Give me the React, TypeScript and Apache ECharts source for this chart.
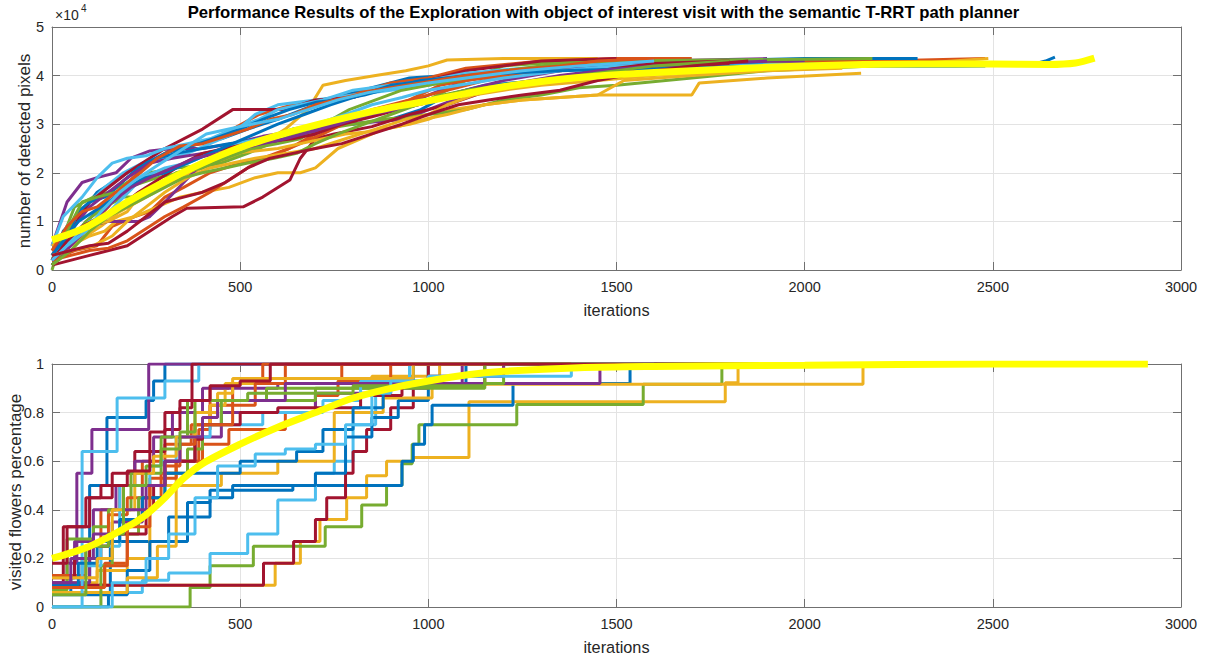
import React, { useEffect, useRef } from "react";
import * as echarts from "echarts";

const COLORS = ["#0072BD", "#D95319", "#EDB120", "#7E2F8E", "#77AC30", "#4DBEEE", "#A2142F"];
const MEAN_COLOR = "#FFFF00";

const TITLE = "Performance Results of the Exploration with object of interest visit with the semantic T-RRT path planner";
const TOP_Y_NAME = "number of detected pixels";
const BOTTOM_Y_NAME = "visited flowers percentage";
const X_NAME = "iterations";

// Top: detected pixels (in units of 1e4) per run
const TOP_RUNS: number[][][] = [
  [[0,0.2],[30,0.8],[80,1.2],[120,1.6],[160,1.8],[220,2.1],[300,2.3],[380,2.6],[450,2.7],[520,2.9],[600,3.1],[700,3.4],[780,3.6],[850,3.75],[950,3.95],[1050,4.0],[1200,4.05],[1400,4.15],[1600,4.2],[1900,4.25],[2300,4.3]],
  [[0,0.3],[40,0.5],[100,0.9],[150,1.3],[200,1.8],[260,2.2],[320,2.5],[400,2.6],[480,2.9],[550,3.2],[640,3.4],[720,3.5],[800,3.6],[900,3.85],[1000,3.95],[1100,4.15],[1300,4.3],[1500,4.35],[1700,4.35]],
  [[0,0.4],[50,0.6],[90,0.7],[130,0.9],[180,1.2],[250,1.5],[320,1.8],[400,2.1],[480,2.3],[560,2.6],[620,2.9],[680,3.3],[720,3.8],[780,3.9],[860,4.0],[940,4.1],[1000,4.2],[1050,4.32],[1200,4.35],[1450,4.35]],
  [[0,0.5],[40,1.4],[80,1.8],[120,1.9],[170,2.0],[210,2.3],[260,2.45],[320,2.5],[400,2.5],[480,2.6],[560,2.75],[640,2.85],[700,2.9],[780,3.1],[860,3.2],[940,3.4],[1000,3.6],[1100,3.9],[1250,4.1],[1400,4.2],[1600,4.3],[1900,4.35]],
  [[0,0.0],[20,0.5],[60,1.3],[110,1.5],[150,1.6],[200,1.8],[260,2.0],[330,2.1],[400,2.15],[460,2.3],[520,2.6],[600,2.8],[700,3.0],[800,3.2],[900,3.3],[1000,3.5],[1100,3.9],[1200,4.2],[1400,4.3],[1600,4.3],[2180,4.3]],
  [[0,0.3],[40,0.9],[90,1.3],[140,1.7],[190,2.0],[240,2.2],[300,2.3],[360,2.4],[420,2.6],[480,2.8],[540,3.2],[600,3.4],[700,3.5],[800,3.6],[900,3.7],[1000,3.8],[1100,3.95],[1300,4.1],[1500,4.2],[1800,4.2],[2000,4.25]],
  [[0,0.3],[50,0.8],[100,1.4],[200,2.0],[300,2.5],[400,2.9],[480,3.3],[620,3.3],[700,3.5],[800,3.55],[900,3.8],[1000,3.9],[1100,4.1],[1300,4.3],[1500,4.35]],
  [[0,0.1],[30,0.4],[80,0.9],[130,1.3],[170,1.7],[230,2.1],[280,2.3],[330,2.4],[400,2.5],[470,2.6],[560,2.7],[640,2.9],[720,3.0],[800,3.0],[900,3.1],[980,3.3],[1050,3.6],[1150,3.8],[1300,3.9],[1450,4.1],[1600,4.15],[1800,4.18],[2050,4.2],[2480,4.2]],
  [[0,0.2],[60,0.4],[120,0.5],[160,0.9],[220,1.1],[260,1.2],[300,1.5],[350,1.7],[420,2.0],[500,2.2],[560,2.3],[630,2.5],[700,2.8],[760,3.0],[850,3.3],[950,3.5],[1050,3.7],[1150,3.9],[1300,4.1],[1500,4.25],[1800,4.3],[2200,4.3],[2480,4.35]],
  [[0,0.3],[50,0.5],[100,0.7],[140,0.8],[170,1.0],[220,1.1],[280,1.3],[340,1.5],[400,1.6],[470,1.7],[540,1.9],[600,2.0],[660,2.0],[700,2.1],[760,2.5],[820,2.7],[880,2.9],[950,3.0],[1000,3.1],[1060,3.3],[1150,3.4],[1250,3.5],[1450,3.6],[1700,3.6],[1720,3.85],[1900,3.95],[2150,4.05]],
  [[0,0.1],[50,0.5],[100,0.9],[150,1.0],[230,1.0],[260,1.1],[300,1.4],[350,1.8],[400,2.2],[450,2.4],[500,2.5],[560,2.6],[620,2.7],[700,2.9],[780,3.0],[860,3.05],[940,3.1],[1000,3.3],[1100,3.6],[1200,3.8],[1350,4.0],[1550,4.2],[1800,4.3],[2000,4.3]],
  [[0,0.1],[40,0.5],[90,1.0],[140,1.3],[190,1.5],[240,1.5],[280,1.7],[330,2.0],[380,2.1],[450,2.2],[520,2.4],[580,2.6],[650,2.8],[720,2.9],[800,3.0],[880,3.1],[950,3.15],[1000,3.2],[1100,3.3],[1200,3.5],[1300,3.6],[1400,3.75],[1500,3.8],[1700,3.95],[1900,4.1],[2180,4.2]],
  [[0,0.5],[30,1.1],[80,1.5],[120,1.9],[160,2.2],[200,2.3],[250,2.35],[300,2.5],[360,2.6],[420,2.7],[480,2.9],[550,3.1],[600,3.3],[660,3.4],[720,3.5],[800,3.7],[900,3.8],[1000,3.9],[1100,4.05],[1250,4.15],[1400,4.2],[1600,4.25],[1790,4.3]],
  [[0,0.1],[100,0.3],[200,0.5],[280,0.9],[320,1.1],[358,1.27],[508,1.3],[560,1.5],[632,1.85],[660,2.3],[700,2.7],[750,2.8],[850,2.95],[950,3.2],[1050,3.4],[1200,3.8],[1400,4.0],[1600,4.15],[1800,4.25]],
  [[0,0.2],[40,0.7],[70,1.2],[100,1.4],[140,1.5],[200,1.9],[250,2.2],[300,2.4],[370,2.55],[430,2.7],[500,2.9],[560,3.1],[630,3.3],[700,3.45],[760,3.5],[830,3.6],[900,3.75],[980,3.9],[1050,3.95],[1200,4.05],[1400,4.2],[1700,4.3],[2000,4.35],[2300,4.35]],
  [[0,0.2],[50,0.3],[100,0.4],[150,0.45],[200,0.6],[260,0.9],[300,1.1],[350,1.3],[420,1.6],[480,1.9],[540,2.2],[600,2.4],[660,2.6],[720,2.8],[800,3.1],[880,3.3],[950,3.5],[1030,3.8],[1100,3.9],[1200,4.0],[1350,4.1],[1500,4.2],[1700,4.3],[1900,4.3]],
  [[0,0.5],[40,0.7],[90,0.9],[150,1.0],[200,1.2],[250,1.7],[300,1.8],[360,2.0],[420,2.2],[480,2.4],[540,2.45],[600,2.5],[660,2.6],[720,2.7],[780,2.8],[850,2.85],[920,2.95],[990,3.1],[1050,3.2],[1150,3.4],[1250,3.5],[1350,3.55],[1450,3.6],[1520,3.9],[1700,4.0],[1900,4.1],[2100,4.15]],
  [[0,0.4],[50,0.8],[100,1.3],[150,1.6],[200,1.9],[260,2.2],[320,2.3],[400,2.4],[470,2.5],[540,2.6],[600,2.65],[680,2.8],[760,3.0],[840,3.2],[920,3.4],[1000,3.5],[1100,3.7],[1200,3.9],[1350,4.1],[1500,4.25],[1700,4.3],[1900,4.3]],
  [[0,0.2],[40,0.8],[80,1.4],[120,1.5],[170,1.6],[220,1.75],[280,1.9],[340,2.0],[400,2.1],[460,2.3],[530,2.5],[600,2.6],[660,2.7],[720,3.0],[790,3.3],[860,3.5],[930,3.7],[1000,3.8],[1100,3.95],[1200,4.1],[1350,4.25],[1500,4.3],[2180,4.35]],
  [[0,0.3],[50,0.6],[100,1.0],[140,1.1],[190,1.5],[240,1.9],[300,2.1],[360,2.2],[420,2.4],[490,2.6],[550,2.7],[620,2.8],[700,3.0],[780,3.2],[850,3.4],[930,3.55],[1000,3.7],[1080,3.8],[1200,3.95],[1350,4.1],[1500,4.2],[1700,4.25]],
  [[0,0.2],[40,0.6],[80,0.9],[130,1.1],[180,1.3],[230,1.6],[290,1.9],[350,2.2],[400,2.4],[460,2.5],[520,2.6],[580,2.65],[640,2.7],[700,2.8],[770,3.0],[850,3.15],[920,3.3],[1000,3.45],[1080,3.6],[1150,3.7],[1250,3.8],[1350,3.9],[1450,4.1],[1600,4.25],[1800,4.3]],
  [[0,0.3],[30,0.6],[70,1.0],[110,1.2],[150,1.4],[200,1.7],[250,1.9],[300,2.0],[360,2.2],[420,2.4],[480,2.6],[540,2.8],[600,3.0],[670,3.2],[740,3.4],[820,3.6],[900,3.8],[1000,3.9],[1100,4.0],[1200,4.05],[1350,4.1],[1600,4.15],[2000,4.2],[2400,4.2],[2600,4.22],[2640,4.3],[2665,4.38]],
  [[0,0.4],[40,0.9],[80,1.2],[120,1.3],[170,1.6],[220,1.9],[280,2.3],[340,2.55],[400,2.6],[460,2.75],[520,2.9],[580,3.1],[640,3.2],[700,3.4],[780,3.55],[860,3.7],[940,3.8],[1020,3.9],[1100,4.0],[1200,4.1],[1350,4.2],[1450,4.3],[1600,4.35]],
  [[0,0.3],[50,0.4],[110,0.5],[160,0.7],[200,1.0],[250,1.3],[300,1.6],[360,1.9],[420,2.1],[480,2.2],[540,2.3],[620,2.4],[700,2.5],[780,2.7],[860,2.9],[940,3.1],[1000,3.2],[1050,3.4],[1120,3.6],[1200,3.7],[1300,3.8],[1450,3.9],[1600,4.0],[1800,4.1],[2000,4.15],[2300,4.25],[2488,4.35]],
  [[0,0.2],[60,0.6],[110,1.0],[160,1.4],[210,1.7],[260,1.9],[320,2.1],[380,2.3],[440,2.4],[500,2.5],[560,2.6],[620,2.7],[690,2.85],[760,3.0],[840,3.2],[920,3.3],[1000,3.45],[1100,3.6],[1200,3.75],[1300,3.9],[1450,4.1],[1600,4.2],[1900,4.3]],
  [[0,0.1],[50,0.4],[100,0.8],[150,1.1],[200,1.3],[250,1.5],[300,1.7],[350,1.9],[400,2.0],[460,2.1],[520,2.2],[590,2.3],[650,2.4],[700,2.6],[760,2.8],[830,3.0],[900,3.2],[970,3.4],[1040,3.6],[1100,3.7],[1200,3.8],[1400,4.0],[1600,4.2],[1800,4.3]],
  [[0,0.2],[40,0.5],[90,0.8],[130,1.2],[180,1.6],[230,1.9],[290,2.2],[350,2.5],[410,2.8],[470,2.9],[530,3.0],[600,3.1],[680,3.3],[760,3.5],[840,3.65],[920,3.75],[1000,3.85],[1100,3.95],[1250,4.1],[1400,4.2],[1600,4.3]],
  [[0,0.3],[50,0.4],[100,0.5],[150,0.55],[200,0.8],[250,1.1],[300,1.4],[350,1.5],[400,1.6],[460,1.8],[520,2.1],[580,2.3],[640,2.4],[700,2.5],[770,2.6],[850,2.8],[930,3.0],[1000,3.2],[1080,3.4],[1160,3.5],[1250,3.6],[1350,3.7],[1450,3.9],[1550,4.05],[1700,4.2],[1850,4.3]],
];

const TOP_MEAN: number[][] = [
  [0,0.62],[50,0.75],[100,0.92],[150,1.15],[200,1.4],[300,1.82],[400,2.2],[500,2.52],[600,2.77],[700,2.98],[800,3.17],[900,3.34],[1000,3.48],[1100,3.63],[1200,3.77],[1300,3.88],[1400,3.96],[1500,4.02],[1700,4.1],[1900,4.17],[2100,4.22],[2300,4.24],[2500,4.24],[2650,4.23],[2720,4.26],[2770,4.36],
];

// Bottom: visited flowers fraction per run (stepwise)
const BOTTOM_RUNS: number[][][] = [
  [[0,0.06],[50,0.12],[100,0.5],[146,0.78],[250,0.85],[270,0.93],[300,1],[1560,1]],
  [[0,0.1],[80,0.2],[130,0.4],[180,0.5],[240,0.6],[300,0.67],[370,0.75],[420,0.83],[480,0.92],[620,1],[1700,1]],
  [[0,0.09],[593,0.18],[660,0.27],[712,0.36],[783,0.45],[836,0.54],[889,0.6],[960,0.615],[1108,0.845],[1789,0.923],[1823,1],[2150,1]],
  [[0,0.09],[40,0.18],[66,0.55],[106,0.73],[257,1],[1900,1]],
  [[0,0],[367,0.08],[420,0.17],[535,0.25],[726,0.33],[823,0.42],[889,0.5],[930,0.59],[957,0.67],[975,0.75],[1235,0.833],[1571,0.917],[1780,1],[2180,1]],
  [[0,0.1],[80,0.64],[173,0.86],[300,0.93],[390,1],[1790,1]],
  [[0,0.09],[30,0.33],[100,0.45],[160,0.55],[220,0.64],[300,0.73],[340,0.82],[372,1],[1590,1]],
  [[0,0.05],[155,0.27],[310,0.37],[420,0.45],[480,0.5],[930,0.6],[960,0.67],[990,0.75],[1010,0.83],[1225,0.92],[1536,1],[2480,1]],
  [[0,0.09],[140,0.18],[200,0.36],[240,0.45],[290,0.55],[330,0.6],[390,0.73],[420,0.9],[470,0.92],[560,1],[2480,1]],
  [[0,0.1],[120,0.15],[200,0.2],[260,0.5],[330,0.6],[380,0.75],[420,0.83],[460,0.92],[850,0.95],[1030,1],[2150,1]],
  [[0,0.13],[60,0.27],[110,0.4],[170,0.5],[220,0.6],[270,0.7],[320,0.8],[400,0.9],[600,0.92],[1090,1],[2000,1]],
  [[0,0.07],[40,0.28],[110,0.33],[150,0.4],[210,0.55],[290,0.7],[360,0.85],[570,0.9],[870,0.92],[1000,1],[2180,1]],
  [[0,0.06],[170,0.06],[240,0.11],[310,0.14],[420,0.22],[520,0.3],[600,0.44],[700,0.55],[750,0.6],[800,0.75],[860,0.92],[950,1],[1790,1]],
  [[0,0.09],[562,0.18],[642,0.27],[700,0.36],[730,0.45],[780,0.55],[800,0.64],[836,0.73],[900,0.82],[960,0.91],[1150,1],[1800,1]],
  [[0,0],[150,0.05],[200,0.15],[260,0.27],[360,0.43],[420,0.48],[640,0.5],[700,0.55],[780,0.7],[850,0.78],[920,0.85],[1000,0.92],[1100,1],[2300,1]],
  [[0,0.13],[90,0.25],[150,0.38],[200,0.45],[260,0.53],[330,0.6],[400,0.67],[470,0.73],[620,0.8],[700,0.87],[760,0.93],[900,1],[1900,1]],
  [[0,0.06],[200,0.12],[280,0.25],[330,0.5],[450,0.55],[600,0.6],[750,0.8],[880,0.86],[1010,0.917],[2155,1],[2488,1]],
  [[0,0.1],[100,0.2],[160,0.35],[240,0.5],[300,0.6],[380,0.7],[450,0.8],[700,0.88],[900,0.9],[1000,0.92],[1456,1],[1900,1]],
  [[0,0],[130,0.17],[160,0.3],[230,0.45],[300,0.55],[360,0.65],[400,0.75],[450,0.85],[700,0.9],[1150,0.92],[1200,1],[2180,1]],
  [[0,0],[80,0.17],[130,0.25],[180,0.5],[260,0.58],[290,0.6],[330,0.7],[420,0.75],[560,0.8],[720,0.85],[820,0.93],[1000,1],[1700,1]],
  [[0,0.12],[60,0.2],[100,0.25],[150,0.3],[250,0.4],[270,0.5],[300,0.6],[380,0.69],[400,0.75],[500,0.8],[600,0.82],[820,0.87],[930,0.92],[1000,1],[1800,1]],
  [[0,0.09],[70,0.18],[120,0.27],[180,0.36],[240,0.45],[300,0.55],[500,0.6],[650,0.64],[720,0.73],[800,0.82],[880,0.91],[960,1],[2665,1]],
  [[0,0.08],[140,0.17],[200,0.33],[260,0.5],[300,0.58],[340,0.67],[380,0.75],[480,0.83],[540,0.92],[770,1],[1600,1]],
  [[0,0.12],[120,0.2],[160,0.4],[220,0.55],[270,0.62],[330,0.7],[380,0.8],[440,0.88],[480,0.94],[960,1],[2488,1]],
  [[0,0.1],[50,0.2],[110,0.3],[190,0.4],[250,0.5],[300,0.6],[340,0.7],[400,0.78],[440,0.85],[620,0.92],[1000,0.95],[1200,1],[1900,1]],
  [[0,0.05],[90,0.25],[150,0.3],[190,0.5],[250,0.58],[290,0.65],[340,0.72],[380,0.85],[520,0.88],[800,0.91],[1150,1],[1800,1]],
  [[0,0],[160,0.1],[250,0.2],[310,0.3],[380,0.45],[440,0.58],[540,0.63],[620,0.65],[700,0.67],[780,0.75],[850,0.88],[900,0.93],[1000,0.95],[1380,1],[1600,1]],
  [[0,0.18],[40,0.33],[90,0.45],[130,0.5],[200,0.56],[260,0.72],[300,0.8],[340,0.85],[420,0.91],[500,0.93],[580,1],[1850,1]],
];

const BOTTOM_MEAN: number[][] = [
  [0,0.2],[100,0.25],[200,0.33],[250,0.38],[300,0.45],[350,0.53],[400,0.59],[500,0.67],[600,0.74],[700,0.8],[800,0.86],[900,0.9],[1000,0.93],[1100,0.955],[1200,0.97],[1400,0.985],[1600,0.99],[2000,0.995],[2500,1.0],[2912,1.0],
];

const FONT = "'Liberation Sans', Arial, Helvetica, sans-serif";
const TXT = "#262626";
const AXIS = "#707070";
const GRID = "#e3e3e3";

export default function App() {
  const ref = useRef<HTMLDivElement>(null);
  useEffect(() => {
    if (!ref.current) return;
    const chart = echarts.init(ref.current, undefined, { renderer: "svg" });

    const mkX = (gridIndex: number, pos: "bottom" | "top", main: boolean) => ({
      type: "value",
      gridIndex,
      position: pos,
      min: 0,
      max: 3000,
      interval: 500,
      name: main ? X_NAME : "",
      nameLocation: "middle",
      nameGap: 32,
      nameTextStyle: { fontFamily: FONT, fontSize: 16.3, color: TXT },
      axisLine: { show: true, onZero: false, lineStyle: { color: AXIS, width: 1 } },
      axisTick: { show: true, inside: true, length: 8, lineStyle: { color: AXIS } },
      axisLabel: { show: main, margin: 9, fontFamily: FONT, fontSize: 14.5, color: TXT, formatter: (v: number) => String(v) },
      splitLine: { show: main, lineStyle: { color: GRID, width: 1 } },
    });
    const mkY = (gridIndex: number, pos: "left" | "right", main: boolean, max: number, interval: number) => ({
      type: "value",
      gridIndex,
      position: pos,
      min: 0,
      max,
      interval,
      axisLine: { show: true, onZero: false, lineStyle: { color: AXIS, width: 1 } },
      axisTick: { show: true, inside: true, length: 8, lineStyle: { color: AXIS } },
      axisLabel: { show: main, margin: 8, fontFamily: FONT, fontSize: 14.5, color: TXT, formatter: (v: number) => String(Math.round(v * 10) / 10) },
      splitLine: { show: main, lineStyle: { color: GRID, width: 1 } },
    });

    const series: any[] = [];
    TOP_RUNS.forEach((run, i) => {
      series.push({
        type: "line", xAxisIndex: 0, yAxisIndex: 0, data: run, showSymbol: false,
        lineStyle: { color: COLORS[i % 7], width: 3 }, silent: true,
      });
    });
    series.push({
      type: "line", xAxisIndex: 0, yAxisIndex: 0, data: TOP_MEAN, showSymbol: false, smooth: 0.3,
      lineStyle: { color: MEAN_COLOR, width: 7 }, silent: true, z: 5,
    });
    BOTTOM_RUNS.forEach((run, i) => {
      series.push({
        type: "line", xAxisIndex: 2, yAxisIndex: 2, data: run, showSymbol: false, step: "end",
        lineStyle: { color: COLORS[i % 7], width: 3 }, silent: true,
      });
    });
    series.push({
      type: "line", xAxisIndex: 2, yAxisIndex: 2, data: BOTTOM_MEAN, showSymbol: false, smooth: 0.3,
      lineStyle: { color: MEAN_COLOR, width: 7 }, silent: true, z: 5,
    });

    chart.setOption({
      animation: false,
      backgroundColor: "#ffffff",
      grid: [
        { left: 52, right: 26, top: 27, height: 243, outerBoundsMode: "none", containLabel: false },
        { left: 52, right: 26, top: 364, height: 243, outerBoundsMode: "none", containLabel: false },
      ],
      xAxis: [mkX(0, "bottom", true), mkX(0, "top", false), mkX(1, "bottom", true), mkX(1, "top", false)],
      yAxis: [
        mkY(0, "left", true, 5, 1),
        mkY(0, "right", false, 5, 1),
        mkY(1, "left", true, 1, 0.2),
        mkY(1, "right", false, 1, 0.2),
      ],
      graphic: [
        {
          type: "text", left: "center", top: 4,
          style: { text: TITLE, font: `bold 16.7px ${FONT}`, fill: "#000" },
        },
        { type: "text", x: 55, y: 8, style: { text: "×10", font: `14px ${FONT}`, fill: TXT } },
        { type: "text", x: 81, y: 3, style: { text: "4", font: `10px ${FONT}`, fill: TXT } },
        {
          type: "text", x: 24, y: 151, rotation: Math.PI / 2,
          style: { text: TOP_Y_NAME, font: `17px ${FONT}`, fill: TXT, align: "center", verticalAlign: "middle" },
        },
        {
          type: "text", x: 15, y: 492, rotation: Math.PI / 2,
          style: { text: BOTTOM_Y_NAME, font: `17px ${FONT}`, fill: TXT, align: "center", verticalAlign: "middle" },
        },
      ],
      series,
    });
    return () => chart.dispose();
  }, []);
  return <div ref={ref} style={{ position: "fixed", left: 0, top: 0, width: 1207, height: 656 }} />;
}
